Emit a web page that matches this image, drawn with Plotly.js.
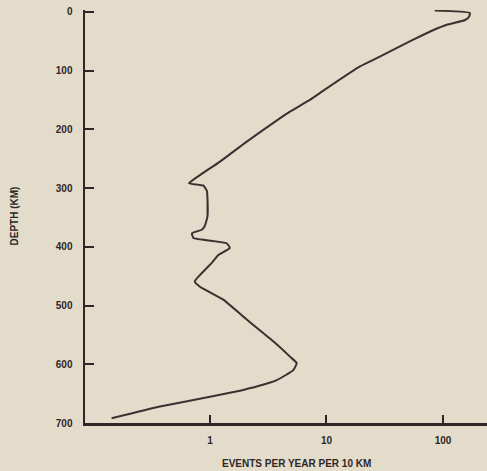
<!DOCTYPE html>
<html>
<head>
<meta charset="utf-8">
<script src="https://cdn.plot.ly/plotly-3.0.1.min.js"></script>
<style>html,body{margin:0;padding:0;background:#e3dccb;}#chart{width:487px;height:471px;}</style>
</head>
<body>
<div id="chart"></div>
<script>
// Depth (km) and seismic events per year per 10 km
const depthKm = [-2, 2, 8, 14, 22, 31, 48, 59, 76, 93, 133, 150, 170, 181, 221, 255, 278, 292, 296, 305, 315, 349, 365, 371, 377, 385, 394, 402, 414, 428, 459, 468, 490, 525, 561, 587, 598, 610, 627, 638, 645, 652, 672, 692];
const eventsPerYear = [85, 170, 168, 155, 108, 83, 55, 42.7, 29, 19.4, 9.6, 7.2, 4.86, 4.0, 2.07, 1.22, 0.82, 0.66, 0.88, 0.94, 0.95, 0.95, 0.9, 0.85, 0.70, 0.72, 1.39, 1.48, 1.18, 1.03, 0.74, 0.82, 1.30, 2.1, 3.49, 4.86, 5.55, 5.19, 3.74, 2.51, 1.81, 1.22, 0.372, 0.143];

const xTickVals = [1, 10, 100];
const xTickText = ['1', '10', '100'];
const yTickVals = [0, 100, 200, 300, 400, 500, 600, 700];
const yTickText = ['0', '100', '200', '300', '400', '500', '600', '700'];

const ink = '#2f2727';
const bg = '#e3dccb';
const tickFont = {family: 'Liberation Sans, Arial, sans-serif', size: 10, color: ink, weight: 'bold'};

const trace = {
  x: eventsPerYear,
  y: depthKm,
  type: 'scatter',
  mode: 'lines',
  line: {color: '#3a3131', width: 2, shape: 'spline', smoothing: 0.4},
  hoverinfo: 'skip'
};

const layout = {
  width: 487,
  height: 471,
  margin: {l: 85, r: 0, t: 10, b: 48, pad: 0},
  paper_bgcolor: bg,
  plot_bgcolor: bg,
  showlegend: false,
  xaxis: {
    type: 'log',
    range: [-1.073, 2.378],
    showline: true, linecolor: ink, linewidth: 2.5,
    showgrid: false, zeroline: false,
    ticks: 'inside', ticklen: 8, tickwidth: 2, tickcolor: ink,
    tickvals: xTickVals, ticktext: xTickText,
    tickfont: tickFont,
    ticklabelstandoff: 6
  },
  yaxis: {
    range: [700, -3],
    showline: true, linecolor: ink, linewidth: 2.5,
    showgrid: false, zeroline: false,
    ticks: 'inside', ticklen: 9, tickwidth: 2, tickcolor: ink,
    tickvals: yTickVals, ticktext: yTickText,
    tickfont: tickFont,
    ticklabelstandoff: 8
  },
  annotations: [
    {text: 'EVENTS PER YEAR PER 10 KM', xref: 'paper', yref: 'paper', x: 0.525, y: 0, yshift: -40,
     showarrow: false, xanchor: 'center', yanchor: 'middle',
     font: {family: 'Liberation Sans, Arial, sans-serif', size: 10, color: ink, weight: 'bold'}},
    {text: 'DEPTH (KM)', xref: 'paper', yref: 'paper', x: 0, xshift: -71, y: 0.5, textangle: -90,
     showarrow: false, xanchor: 'center', yanchor: 'middle',
     font: {family: 'Liberation Sans, Arial, sans-serif', size: 10, color: ink, weight: 'bold'}}
  ]
};

Plotly.newPlot('chart', [trace], layout, {staticPlot: true, displayModeBar: false});
</script>
</body>
</html>
